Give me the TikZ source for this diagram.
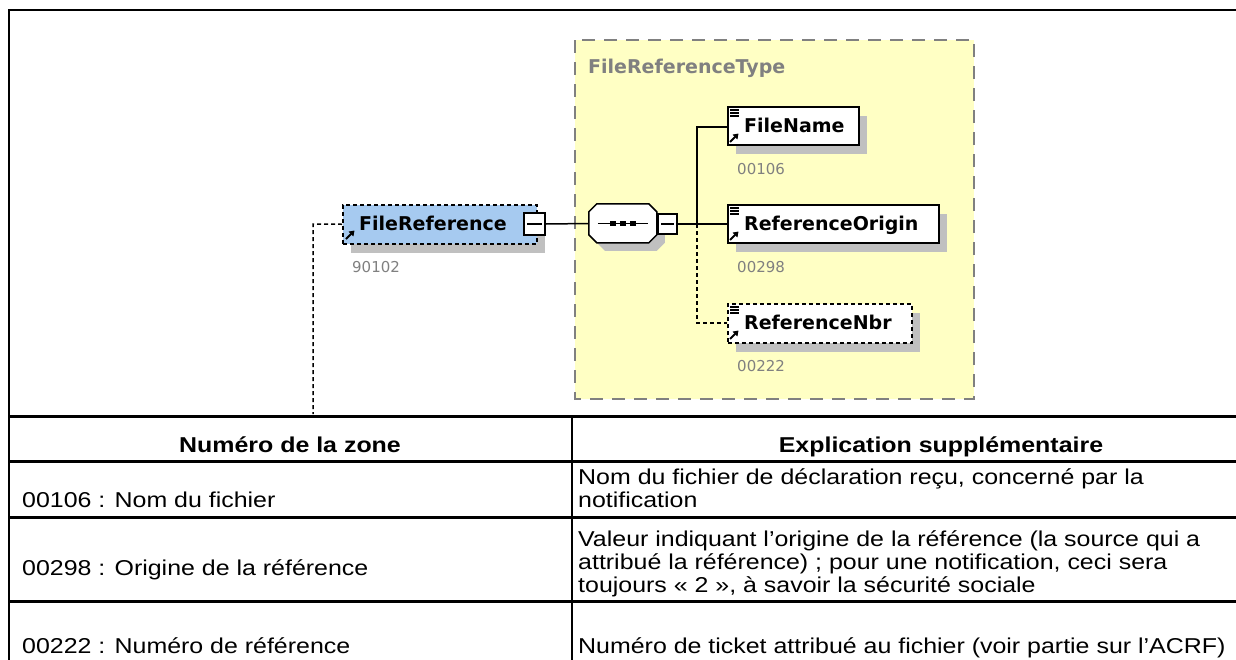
\documentclass[tikz,border=0pt]{standalone}
\usepackage{fontspec}
\setmainfont{Liberation Sans}
\newfontfamily\tabfont[FakeStretch=1.16]{Liberation Sans}
\newfontfamily\xfont{DejaVu Sans}
\usetikzlibrary{shadows,arrows.meta,calc}
\definecolor{frblue}{RGB}{166,202,240}
\definecolor{typeyellow}{RGB}{255,255,196}
\definecolor{shgray}{RGB}{192,192,192}
\definecolor{numgray}{RGB}{128,128,128}
\tikzset{
  elbox/.style={draw, line width=1.5pt, fill=white, anchor=north west, inner sep=0pt,
    drop shadow={shadow xshift=8pt, shadow yshift=-9pt, fill=shgray, opacity=1}},
  optline/.style={dash pattern=on 4pt off 3pt},
  elname/.style={font={\xfont\bfseries\fontsize{19}{19}\selectfont}, anchor=base west, inner sep=0pt},
  numlbl/.style={font={\xfont\fontsize{15}{15}\selectfont}, text=numgray, anchor=base west, inner sep=0pt},
  cell/.style={font={\tabfont\fontsize{21.5}{23}\selectfont}, anchor=base west, inner sep=0pt},
  headcell/.style={font={\tabfont\bfseries\fontsize{21.5}{23}\selectfont}, anchor=base, inner sep=0pt},
  minusbox/.style={draw, line width=1.3pt, fill=white, inner sep=0pt},
  conn/.style={line width=1.5pt},
  tline/.style={line width=2.5pt},
  linesicon/.pic={\draw[line width=1.1pt] (0,0)--(9,0) (0,3)--(9,3) (0,6)--(9,6);},
  arricon/.pic={\draw[line width=2pt,-{Triangle[length=5pt,width=6.5pt]}] (0,0)--(8.5,-8.5);}
}
\begin{document}
\begin{tikzpicture}[x=1pt,y=-1pt]
\useasboundingbox (0,0) rectangle (1236,659);
% type box
\draw[fill=typeyellow, draw=numgray, line width=2pt, dash pattern=on 13pt off 9pt] (575,40) rectangle (974,399);
\node[font={\xfont\bfseries\fontsize{19}{19}\selectfont}, text=numgray, anchor=base west, inner sep=0pt] (ttl) at (588,73) {FileReferenceType};
% FileReference element
\node[elbox, fill=frblue, optline, minimum width=194pt, minimum height=39pt] (fr) at (342,204) {};
\node[elname] (frt) at (359,230) {FileReference};
\pic at (346,239) {arricon};
\node[numlbl] (frn) at (352,272) {90102};
\node[minusbox, minimum width=21pt, minimum height=22pt] (frm) at (534.5,224) {};
\draw[line width=1.3pt] ([xshift=4pt]frm.west) -- ([xshift=-4pt]frm.east);
% sequence
\node[minimum width=68pt, minimum height=39pt, inner sep=0pt] (seq) at (623,223.5) {};
\fill[shgray] ($(seq.north west)+(8,8)$) -- +(8,0) -- +(60,0) -- +(68,8) -- +(68,31) -- +(60,39) -- +(8,39) -- +(0,31) -- +(0,8) -- cycle;
\draw[line width=1.5pt, fill=white] (seq.north west) ++(8,0) -- ++(52,0) -- ++(8,8) -- ++(0,23) -- ++(-8,8) -- ++(-52,0) -- ++(-8,-8) -- ++(0,-23) -- cycle;
\draw[line width=1.3pt] ($(seq.west)+(9,0)$) -- ($(seq.east)+(-9,0)$);
\foreach \dx in {-10,0,10} \fill ($(seq.center)+(\dx,0)+(-3,-2.5)$) rectangle ++(6,5);
\node[minusbox, minimum width=19pt, minimum height=20pt] (seqm) at (667.5,224) {};
\draw[line width=1.3pt] ([xshift=4pt]seqm.west) -- ([xshift=-4pt]seqm.east);
% children
\node[elbox, minimum width=131pt, minimum height=38pt] (fn) at (727,106) {};
\node[elname] (fnt) at (744,132) {FileName};
\pic at (730,110) {linesicon};
\pic at (730,142) {arricon};
\node[numlbl] (fnn) at (737,174) {00106};
\node[elbox, minimum width=211pt, minimum height=38pt] (ro) at (727,204) {};
\node[elname] (rot) at (744,230.5) {ReferenceOrigin};
\pic at (730,208) {linesicon};
\pic at (730,240) {arricon};
\node[numlbl] (ron) at (737,272) {00298};
\node[elbox, optline, minimum width=184pt, minimum height=39pt] (rn) at (727,303) {};
\node[elname] (rnt) at (744,329) {ReferenceNbr};
\pic at (730,307) {linesicon};
\pic at (730,339) {arricon};
\node[numlbl] (rnn) at (737,371) {00222};
% connectors
\coordinate (j) at (697,224);
\coordinate (jt) at (697,127);
\coordinate (jb) at (697,323);
\coordinate (c1) at (313,224);
\coordinate (c2) at (313,414);
\draw[conn] (frm.east) -- (seq.west);
\draw[conn] (seqm.east) -- (j);
\draw[conn] (j) -- (jt) -- (jt -| fn.west);
\draw[conn] (j) -- (j -| ro.west);
\draw[conn, optline] (j) -- (jb) -- (jb -| rn.west);
\draw[conn, optline] (fr.west) -- (c1) -- (c2);
% frame and table
\draw[tline] (9,660) -- (9,10) -- (1236,10);
\draw[tline] (9,416.7) -- (1236,416.7);
\draw[tline] (9,461.7) -- (1236,461.7);
\draw[tline] (9,517.3) -- (1236,517.3);
\draw[tline] (9,601.7) -- (1236,601.7);
\draw[tline] (572,416.7) -- (572,660);
\node[headcell] (h1) at (290,452) {Numéro de la zone};
\node[headcell] (h2) at (941,452) {Explication supplémentaire};
\node[cell] (a1) at (22,507) {00106 : Nom du fichier};
\node[cell] (b1) at (578,484) {Nom du fichier de déclaration reçu, concerné par la};
\node[cell] (b1b) at (578,507) {notification};
\node[cell] (a2) at (22,575) {00298 : Origine de la référence};
\node[cell] (b2) at (578,546) {Valeur indiquant l’origine de la référence (la source qui a};
\node[cell] (b2b) at (578,569) {attribué la référence) ; pour une notification, ceci sera};
\node[cell] (b2c) at (578,592) {toujours « 2 », à savoir la sécurité sociale};
\node[cell] (a3) at (22,653) {00222 : Numéro de référence};
\node[cell] (b3) at (578,653) {Numéro de ticket attribué au fichier (voir partie sur l’ACRF)};
\end{tikzpicture}
\end{document}
